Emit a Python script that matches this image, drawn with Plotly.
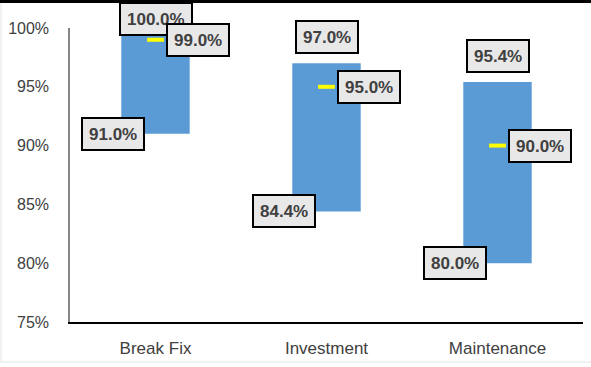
import plotly.graph_objects as go

# Service level range per category (percent)
categories = ["Break Fix", "Investment", "Maintenance"]
low = [91.0, 84.4, 80.0]
high = [100.0, 97.0, 95.4]
target = [99.0, 95.0, 90.0]
y_ticks = [75, 80, 85, 90, 95, 100]

W, H = 591, 367
M_L, M_R, M_T, M_B = 70, 8, 28, 45
Y_MIN, Y_MAX = 75, 100
plot_w = W - M_L - M_R
plot_h = H - M_T - M_B
px_per_unit = plot_h / (Y_MAX - Y_MIN)

BAR = "#5B9BD5"
TXT = "#404040"

fig = go.Figure()

# Floating bars from low to high
fig.add_trace(go.Bar(
    x=categories,
    y=[h - l for h, l in zip(high, low)],
    base=low,
    width=0.4,
    marker=dict(color=BAR, line=dict(width=0)),
    hoverinfo="skip",
    showlegend=False,
))

# Target dashes
fig.add_trace(go.Scatter(
    x=categories,
    y=target,
    mode="markers",
    marker=dict(symbol="line-ew", size=12, line=dict(color="#FFFF00", width=4)),
    hoverinfo="skip",
    showlegend=False,
    cliponaxis=False,
))

label_style = dict(
    showarrow=False,
    font=dict(family="Liberation Sans, Arial", size=17, color=TXT, weight="bold"),
    bgcolor="#E8E8E8",
    bordercolor="#000000",
    borderwidth=2,
    borderpad=6,
    height=18,
    xref="x",
    yref="y",
)
BOX_HALF_H = 18

for cat, lo, hi, tg in zip(categories, low, high, target):
    # upper value: above the bar top, kept inside the chart
    top_px = M_T + (Y_MAX - hi) * px_per_unit
    shift_up = min(26, top_px - 1 - BOX_HALF_H)
    fig.add_annotation(x=cat, y=hi, text=f"{hi:.1f}%", yshift=shift_up, **label_style)
    # lower value: left of the bar bottom
    fig.add_annotation(x=cat, y=lo, text=f"{lo:.1f}%", xshift=-43, **label_style)
    # target value: right of the dash
    fig.add_annotation(x=cat, y=tg, text=f"{tg:.1f}%", xshift=42, **label_style)

# Faint outer frame and heavy top rule (kept under the labels)
fx0, fx1 = -M_L / plot_w, 1 + M_R / plot_w
fy0, fy1 = -M_B / plot_h, 1 + M_T / plot_h
fig.add_shape(type="rect", xref="paper", yref="paper",
              x0=fx0 + 1 / plot_w, x1=fx1 + 2 / plot_w,
              y0=fy0 + 5 / plot_h, y1=fy1,
              line=dict(color="#EEEEEE", width=1.5), layer="below")
fig.add_shape(type="line", xref="paper", yref="paper", x0=fx0, x1=fx1,
              y0=1 + (M_T - 1.5) / plot_h, y1=1 + (M_T - 1.5) / plot_h,
              line=dict(color="#000000", width=3), layer="below")

fig.update_layout(
    width=W,
    height=H,
    margin=dict(l=M_L, r=M_R, t=M_T, b=M_B, pad=0),
    paper_bgcolor="#FFFFFF",
    plot_bgcolor="#FFFFFF",
    bargap=0.6,
    font=dict(family="Liberation Sans, Arial", size=16, color=TXT),
    xaxis=dict(
        type="category",
        showgrid=False,
        showline=True,
        linecolor="#000000",
        linewidth=1.5,
        ticks="outside",
        ticklen=10,
        tickcolor="rgba(0,0,0,0)",
        tickfont=dict(size=17, color=TXT),
        zeroline=False,
    ),
    yaxis=dict(
        range=[Y_MIN, Y_MAX],
        tickvals=y_ticks,
        ticktext=[f"{v}%" for v in y_ticks],
        showgrid=False,
        showline=True,
        linecolor="#868686",
        linewidth=1.5,
        ticks="outside",
        ticklen=16,
        tickcolor="rgba(0,0,0,0)",
        tickfont=dict(size=16, color=TXT),
        zeroline=False,
    ),
)

fig.write_html("out.html")
